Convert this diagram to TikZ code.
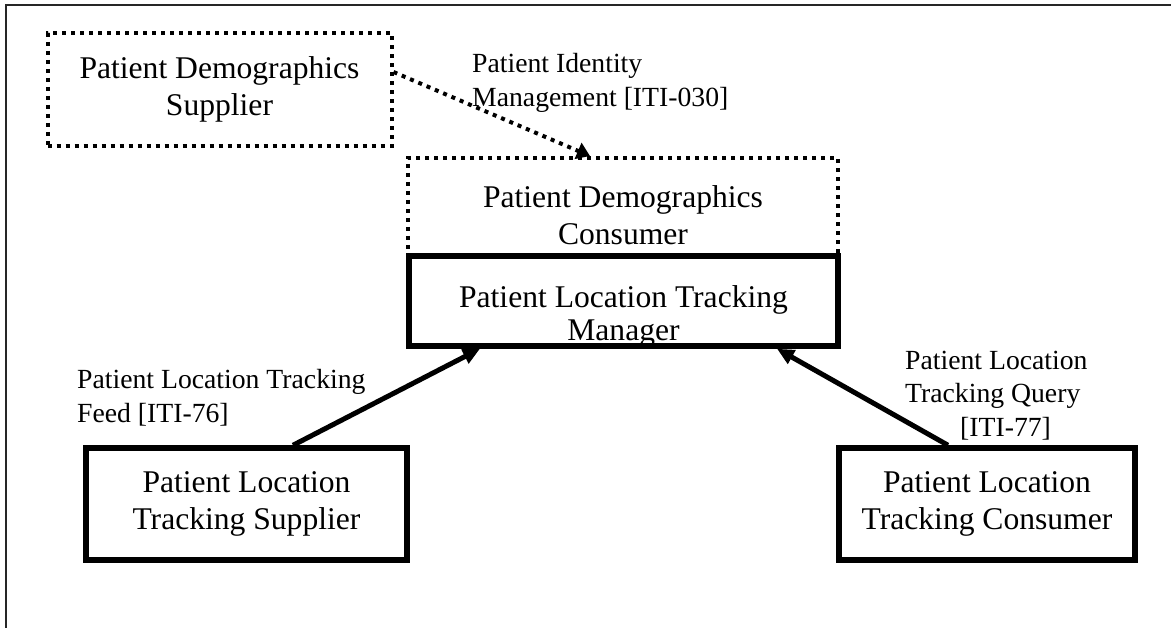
\documentclass[tikz,border=0pt]{standalone}
\usepackage{fontspec}
\setmainfont{Liberation Serif}
\usetikzlibrary{arrows.meta,calc}

\begin{document}
\begin{tikzpicture}[x=1pt,y=-1pt,
    boxfont/.style={align=center,font=\fontsize{31.6}{36.5}\selectfont},
    lblfont/.style={align=left,inner sep=0pt,font=\fontsize{27.7}{34}\selectfont},
    solidbox/.style={draw,line width=5.5pt,inner sep=0pt},
    dotbox/.style={draw,line width=4pt,dash pattern=on 4pt off 5pt,inner sep=0pt},
    flow/.style={line width=5pt,-{Triangle[length=17pt,width=15pt]}},
    dotflow/.style={line width=4pt,dash pattern=on 4pt off 5pt,-{Triangle[length=13pt,width=17pt]}}]
    \useasboundingbox (0,0) rectangle (1171,628);
    % frame
    \draw[line width=2pt,black!85] (1171,5.5) -- (5.5,5.5) -- (5.5,628);
    % actors
    \node[dotbox,boxfont,minimum width=344pt,minimum height=113pt] (pds) at (219.5,89.5) {Patient Demographics\\Supplier};
    \node[dotbox,minimum width=430pt,minimum height=97pt] (pdc) at (623,206.5) {};
    \node[boxfont] (pdctext) at (623,215) {Patient Demographics\\Consumer};
    \node[solidbox,minimum width=429pt,minimum height=90pt] (mgr) at (623.5,301) {};
    \node[boxfont] (mgrtext) at (623.5,316) {Patient Location Tracking\\[-3.5pt]Manager};
    \node[solidbox,boxfont,minimum width=321pt,minimum height=112pt] (plts) at (246.5,504) {Patient Location\\Tracking Supplier};
    \node[solidbox,boxfont,minimum width=296pt,minimum height=112pt] (pltc) at (987,504) {Patient Location\\Tracking Consumer};
    % transactions
    \draw[dotflow] ($(pds.east)+(0,-17.5)$) -- ($(pdc.north)+(-33,0)$);
    \draw[flow] ($(plts.north)+(46.5,0)$) -- ($(mgr.south)+(-143.5,0)$);
    \draw[flow] ($(pltc.north)+(-39,0)$) -- ($(mgr.south)+(153.5,0)$);
    \node[lblfont,anchor=base west] (pimlabel) at (472,107) {Patient Identity\\Management [ITI-030]};
    \node[lblfont,anchor=base west] (feedlabel) at (77,423) {Patient Location Tracking\\Feed [ITI-76]};
    \node[lblfont,anchor=base west] (querylabel) at (905,437) {Patient Location\\Tracking Query\\\hspace*{55pt}[ITI-77]};
\end{tikzpicture}
\end{document}
